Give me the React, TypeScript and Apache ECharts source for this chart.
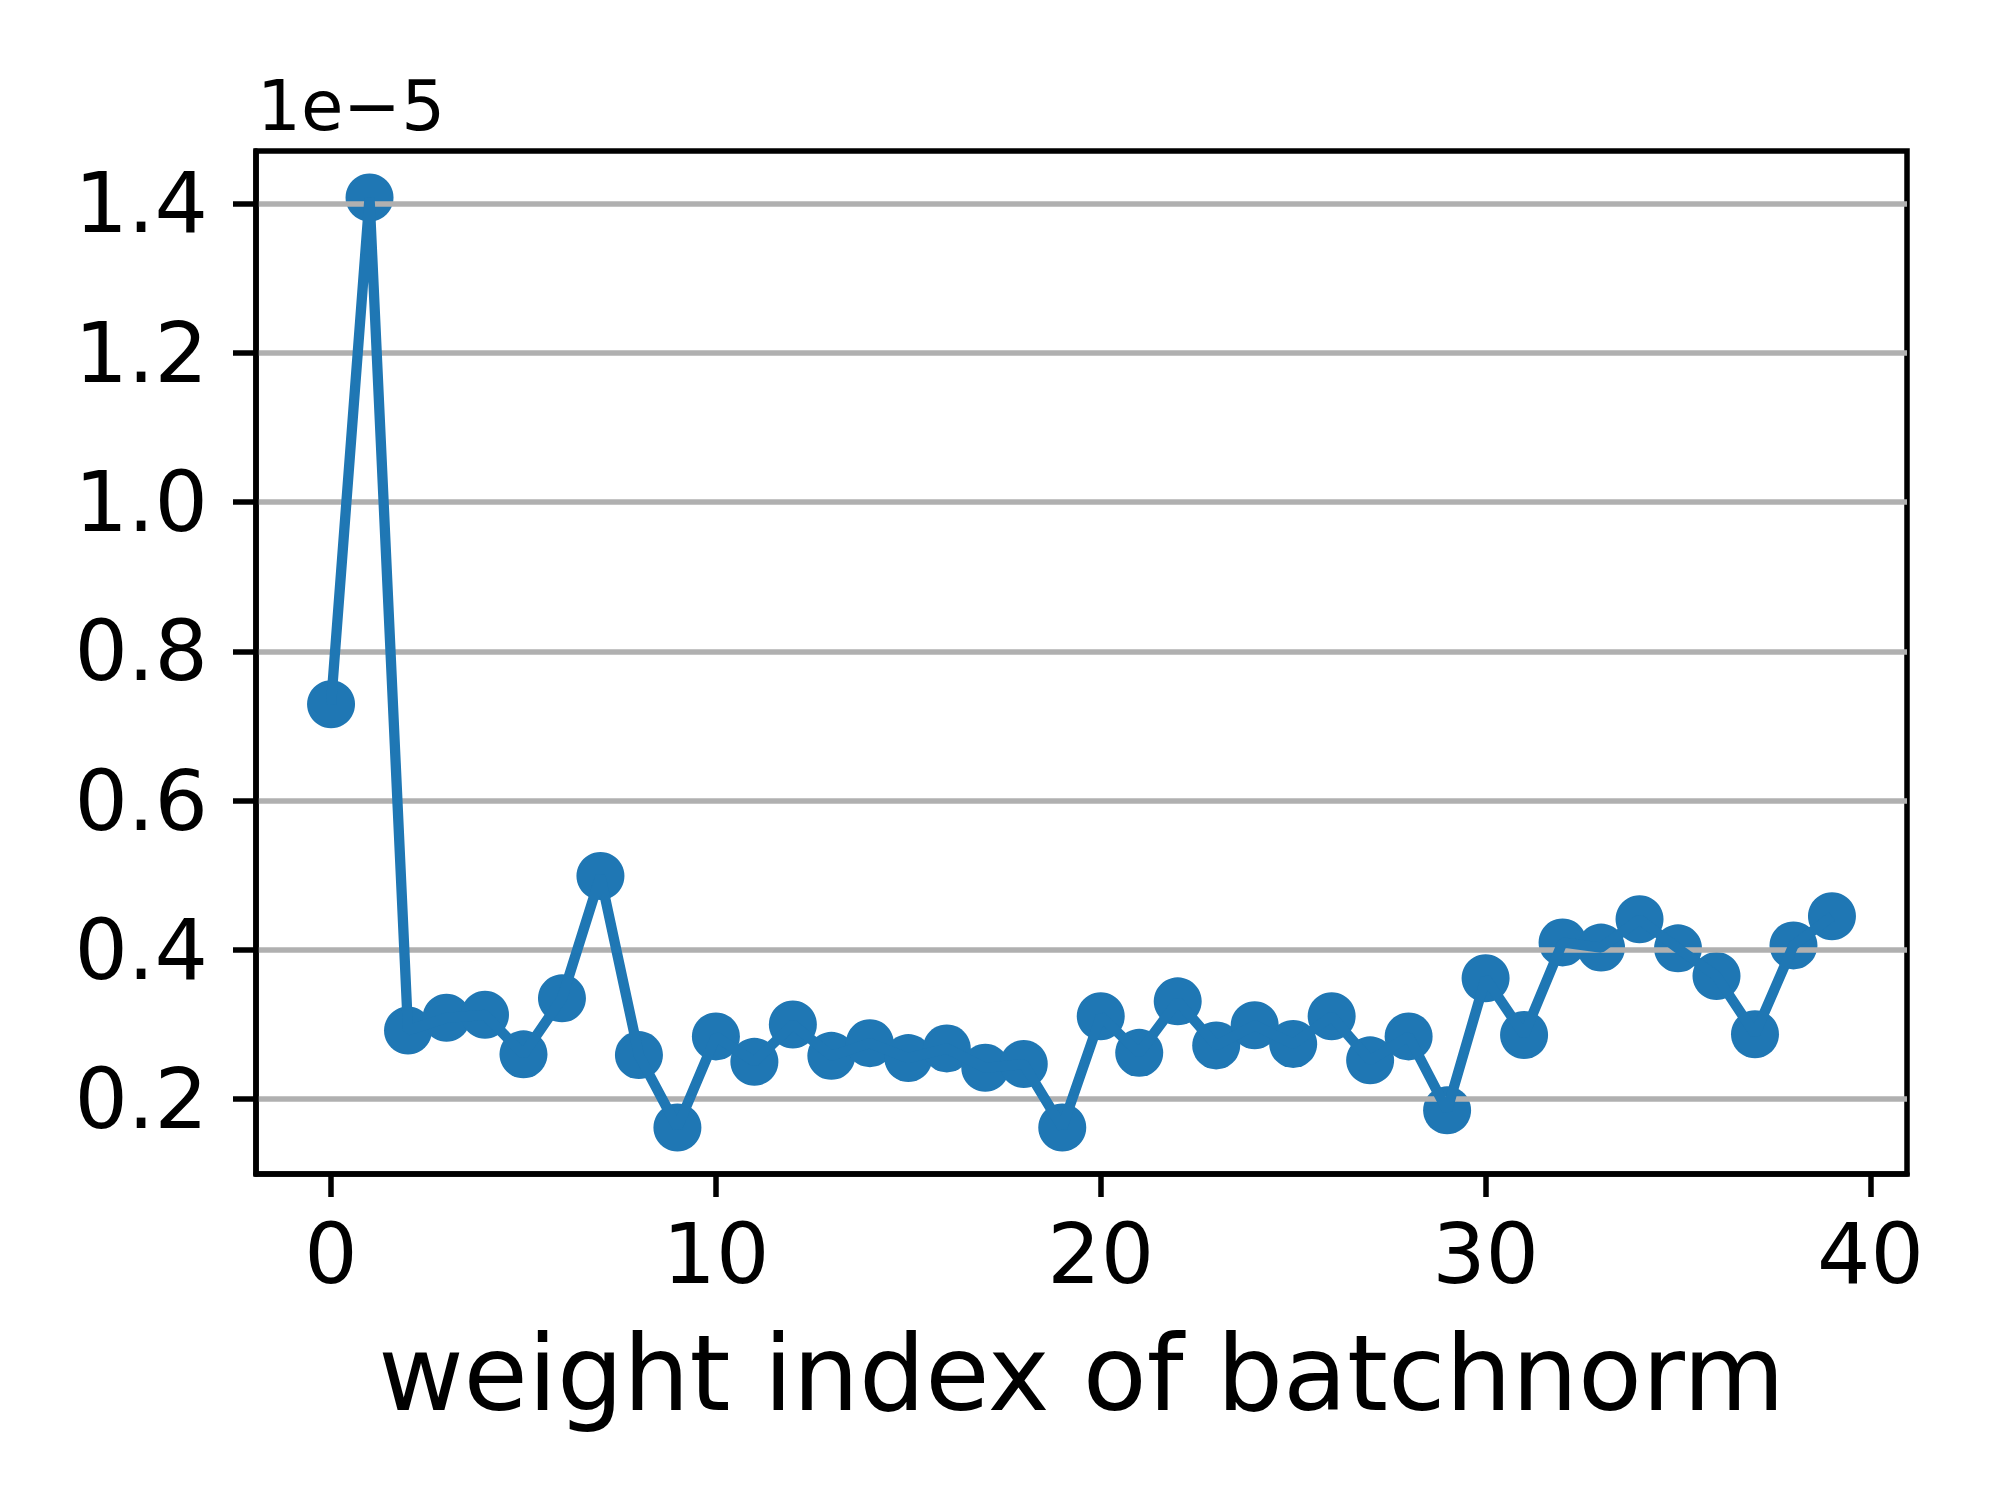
import React, { useEffect, useRef } from "react";
import * as echarts from "echarts";

// values in units of 1e-5
const weightIndex: number[] = Array.from({ length: 40 }, (_, i) => i);
const gradValues: number[] = [
  0.729, 1.408, 0.292, 0.309, 0.313, 0.26, 0.335, 0.499, 0.259, 0.162,
  0.284, 0.25, 0.3, 0.258, 0.275, 0.255, 0.268, 0.242, 0.247, 0.162,
  0.311, 0.262, 0.331, 0.272, 0.299, 0.274, 0.311, 0.252, 0.284, 0.185,
  0.362, 0.286, 0.41, 0.403, 0.441, 0.402, 0.365, 0.287, 0.406, 0.445,
];
const xTicks: number[] = [0, 10, 20, 30, 40];
const yTicks: number[] = [0.2, 0.4, 0.6, 0.8, 1.0, 1.2, 1.4];
const xLabel = "weight index of batchnorm";
const offsetText = "1e\u22125";

const FONT = "DejaVu Sans";
const BLUE = "#1f77b4";

export default function App() {
  const ref = useRef<HTMLDivElement>(null);
  useEffect(() => {
    if (!ref.current) return;
    const chart = echarts.init(ref.current, null, { renderer: "svg" });
    const pts = weightIndex.map((x, i) => [x, gradValues[i]]);
    const lw = 5.5;
    chart.setOption({
      animation: false,
      backgroundColor: "#ffffff",
      grid: {
        left: 256,
        top: 151,
        width: 1651,
        height: 1023,
        show: true,
        borderColor: "#000",
        borderWidth: lw,
        backgroundColor: "transparent",
      },
      xAxis: {
        type: "value",
        min: -1.95,
        max: 40.95,
        z: 3,
        name: xLabel,
        nameLocation: "middle",
        nameGap: 147,
        nameTextStyle: { fontFamily: FONT, fontSize: 104.5, color: "#000" },
        axisLine: { show: true, onZero: false, lineStyle: { color: "#000", width: lw } },
        axisTick: {
          show: true,
          length: 23,
          customValues: xTicks,
          lineStyle: { color: "#000", width: lw },
        },
        axisLabel: {
          customValues: xTicks,
          margin: 38,
          fontFamily: FONT,
          fontSize: 84,
          color: "#000",
        },
        splitLine: { show: false },
      },
      yAxis: {
        type: "value",
        min: 0.0997,
        max: 1.4703,
        z: 3,
        axisLine: { show: true, onZero: false, lineStyle: { color: "#000", width: lw } },
        axisTick: {
          show: true,
          length: 23,
          customValues: yTicks,
          lineStyle: { color: "#000", width: lw },
        },
        axisLabel: {
          customValues: yTicks,
          margin: 48,
          fontFamily: FONT,
          fontSize: 84,
          color: "#000",
          formatter: (v: number) => v.toFixed(1),
        },
        splitLine: { show: true, lineStyle: { color: "#b0b0b0", width: lw } },
      },
      graphic: [
        {
          type: "text",
          left: 257,
          top: 71,
          style: {
            text: offsetText,
            fontFamily: FONT,
            fontSize: 69,
            fill: "#000",
          },
        },
      ],
      series: [
        {
          type: "scatter",
          data: pts,
          z: 2,
          symbol: "circle",
          symbolSize: 48,
          itemStyle: { color: BLUE, opacity: 1 },
        },
        {
          type: "line",
          data: pts,
          z: 4,
          showSymbol: false,
          symbol: "none",
          lineStyle: { color: BLUE, width: 10.3 },
        },
      ],
    });
    return () => chart.dispose();
  }, []);
  return (
    <div
      ref={ref}
      style={{ position: "absolute", left: 0, top: 0, width: 2000, height: 1500 }}
    />
  );
}
